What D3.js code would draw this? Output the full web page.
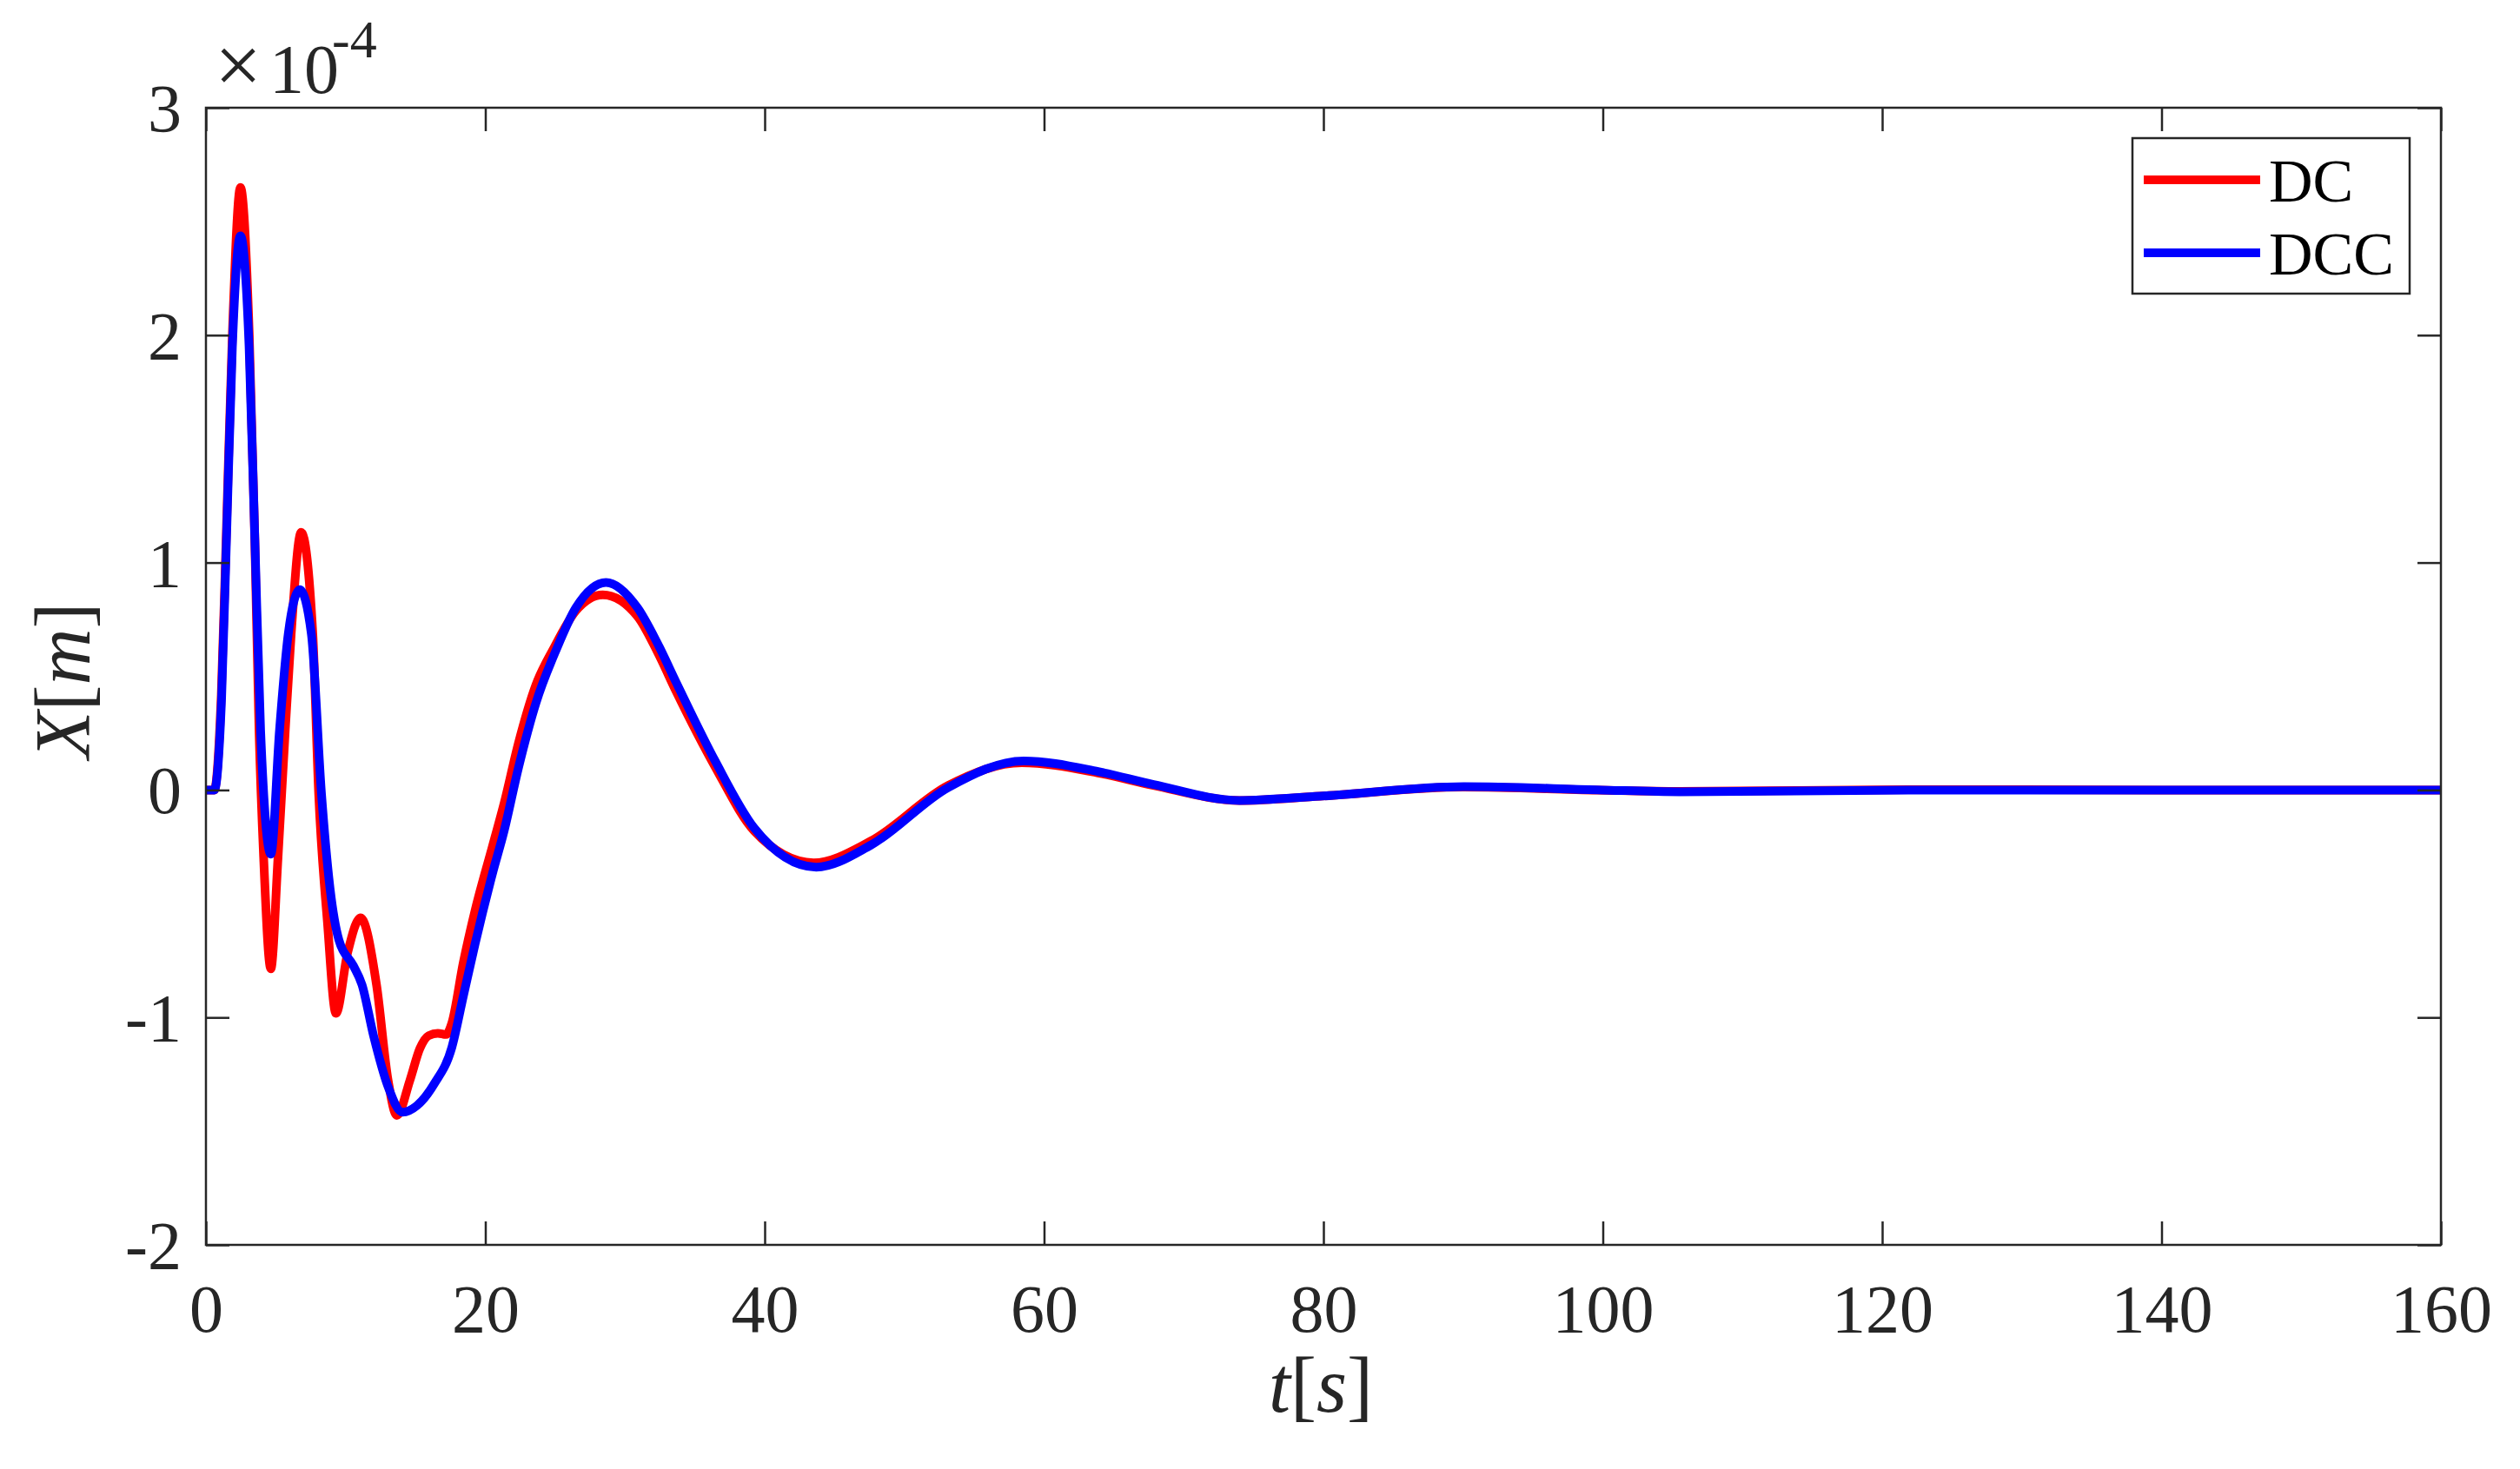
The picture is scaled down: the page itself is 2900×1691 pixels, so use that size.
<!DOCTYPE html>
<html>
<head>
<meta charset="utf-8">
<script src="https://cdn.jsdelivr.net/npm/d3@7"></script>
<style>
  html, body { margin: 0; padding: 0; background: #fff; }
  svg { display: block; }
</style>
</head>
<body>
<svg id="chart" width="2900" height="1691"></svg>
<script>
// ---- data (values in units of 1e-4 m) ----
const tDC = [0, 0.6, 1.1, 1.47, 1.89, 2.47, 3.1, 3.5, 3.8, 4.13, 4.645, 5.16, 5.68, 6.1, 6.82, 7.65, 8.07, 8.69, 9.31, 10.14, 11.07, 12.21, 13.04, 13.67, 14.6, 15.32, 15.95, 16.6, 17.19, 17.6, 18.43, 19.27, 20.51, 21.34, 22.38, 23.62, 24.87, 26.47, 28.41, 30.91, 32.3, 33.69, 36.47, 39.25, 43.5, 47.58, 53.13, 58.4, 63.87, 67.84, 73.99, 79.74, 90.0, 99.6, 105.5, 122, 140, 160];
const xDC = [0, 0, 0.42, 1.15, 2.0, 2.65, 2.0, 1.1, 0.265, -0.296, -0.786, -0.296, 0.265, 0.685, 1.133, 0.685, -0.016, -0.576, -0.982, -0.716, -0.562, -0.856, -1.277, -1.431, -1.277, -1.136, -1.08, -1.07, -1.075, -1.025, -0.757, -0.529, -0.248, -0.06, 0.208, 0.462, 0.62, 0.787, 0.858, 0.762, 0.61, 0.43, 0.10, -0.18, -0.32, -0.225, 0.02, 0.12, 0.075, 0.02, -0.046, -0.027, 0.013, 0.0, -0.006, 0.002, 0, 0];

const tDCC = [0, 0.6, 1.12, 1.47, 1.89, 2.47, 3.09, 3.5, 3.91, 4.645, 5.27, 5.89, 6.72, 7.55, 8.27, 8.89, 9.52, 10.55, 11.17, 12.0, 13.04, 14.08, 15.12, 16.36, 17.6, 18.43, 19.27, 20.51, 21.34, 22.38, 23.62, 25.1, 26.47, 28.64, 30.91, 32.3, 33.69, 36.47, 39.25, 43.69, 47.58, 53.13, 58.54, 63.87, 67.84, 73.99, 79.74, 90.06, 99.58, 105.5, 122, 140, 160];
const xDCC = [0, 0, 0.405, 1.105, 1.947, 2.437, 1.947, 1.105, 0.265, -0.282, 0.265, 0.685, 0.881, 0.685, -0.016, -0.436, -0.66, -0.772, -0.856, -1.081, -1.305, -1.417, -1.387, -1.29, -1.132, -0.905, -0.676, -0.368, -0.181, 0.10, 0.382, 0.62, 0.80, 0.913, 0.80, 0.648, 0.47, 0.126, -0.167, -0.339, -0.243, 0.011, 0.128, 0.081, 0.024, -0.046, -0.027, 0.015, 0.001, -0.008, 0, 0, 0];

const xTicks = [0, 20, 40, 60, 80, 100, 120, 140, 160];
const yTicks = [-2, -1, 0, 1, 2, 3];
const seriesNames = ["DC", "DCC"];
const seriesColors = ["#ff0000", "#0000ff"];

// ---- layout ----
const L = 237, R = 2809, T = 124, B = 1433;
const axisColor = "#262626";
const serif = "'Liberation Serif', 'Times New Roman', serif";

const svg = d3.select("#chart");
const x = d3.scaleLinear().domain([0, 160]).range([L, R]);
const y = d3.scaleLinear().domain([-2, 3]).range([B, T]);

svg.append("defs").append("clipPath").attr("id", "clip")
  .append("rect").attr("x", L).attr("y", T).attr("width", R - L).attr("height", B - T);

// series
const datasets = [
  d3.zip(tDC, xDC),
  d3.zip(tDCC, xDCC)
];
const line = d3.line().x(d => x(d[0])).y(d => y(d[1])).curve(d3.curveMonotoneX);
const plot = svg.append("g").attr("clip-path", "url(#clip)");
datasets.forEach((ds, i) => {
  plot.append("path").datum(ds)
    .attr("d", line)
    .attr("fill", "none")
    .attr("stroke", seriesColors[i])
    .attr("stroke-width", 10)
    .attr("stroke-linejoin", "round")
    .attr("stroke-linecap", "round");
});

// axes
const fmt = d => String(d);
function styleAxis(g) {
  g.select(".domain").remove();
  g.selectAll(".tick line").attr("stroke", axisColor).attr("stroke-width", 2.5);
  g.selectAll(".tick text").attr("fill", axisColor).attr("font-family", serif).attr("font-size", 78);
}
const tickLen = 27;
svg.append("g").attr("transform", `translate(0,${B})`)
  .call(d3.axisBottom(x).tickValues(xTicks).tickSizeInner(-tickLen).tickSizeOuter(0).tickPadding(45).tickFormat(fmt))
  .call(styleAxis);
svg.append("g").attr("transform", `translate(0,${T})`)
  .call(d3.axisTop(x).tickValues(xTicks).tickSizeInner(-tickLen).tickSizeOuter(0).tickFormat(""))
  .call(styleAxis);
svg.append("g").attr("transform", `translate(${L},0)`)
  .call(d3.axisLeft(y).tickValues(yTicks).tickSizeInner(-tickLen).tickSizeOuter(0).tickPadding(28).tickFormat(fmt))
  .call(styleAxis)
  .call(g => g.selectAll(".tick text").attr("dy", "0.34em"));
svg.append("g").attr("transform", `translate(${R},0)`)
  .call(d3.axisRight(y).tickValues(yTicks).tickSizeInner(-tickLen).tickSizeOuter(0).tickFormat(""))
  .call(styleAxis);

// box
svg.append("rect").attr("x", L).attr("y", T).attr("width", R - L).attr("height", B - T)
  .attr("fill", "none").attr("stroke", axisColor).attr("stroke-width", 2.5);

// exponent label
const expG = svg.append("g").attr("fill", axisColor).attr("font-family", serif);
expG.append("text").attr("x", 247).attr("y", 107).attr("font-size", 96).text("\u00d7");
expG.append("text").attr("x", 310).attr("y", 107).attr("font-size", 80).text("10");
expG.append("text").attr("x", 382).attr("y", 66).attr("font-size", 62).text("-4");

// axis labels
const xl = svg.append("text").attr("x", (L + R) / 2 - 3).attr("y", 1625)
  .attr("text-anchor", "middle").attr("font-family", serif).attr("font-size", 90).attr("fill", axisColor);
xl.append("tspan").attr("font-style", "italic").text("t");
xl.append("tspan").text("[");
xl.append("tspan").attr("font-style", "italic").text("s");
xl.append("tspan").text("]");

const yl = svg.append("text").attr("transform", `translate(103,${(T + B) / 2 + 5}) rotate(-90)`)
  .attr("text-anchor", "middle").attr("font-family", serif).attr("font-size", 90).attr("fill", axisColor);
yl.append("tspan").attr("font-style", "italic").text("X");
yl.append("tspan").text("[");
yl.append("tspan").attr("font-style", "italic").text("m");
yl.append("tspan").text("]");

// legend
const lg = svg.append("g");
lg.append("rect").attr("x", 2454).attr("y", 159).attr("width", 319).attr("height", 179)
  .attr("fill", "#fff").attr("stroke", axisColor).attr("stroke-width", 2.5);
seriesNames.forEach((name, i) => {
  const ly = 207 + i * 84;
  lg.append("line").attr("x1", 2467).attr("x2", 2601).attr("y1", ly).attr("y2", ly)
    .attr("stroke", seriesColors[i]).attr("stroke-width", 10);
  lg.append("text").attr("x", 2611).attr("y", ly + 25)
    .attr("font-family", serif).attr("font-size", 70).attr("fill", "#000").text(name);
});
</script>
</body>
</html>
